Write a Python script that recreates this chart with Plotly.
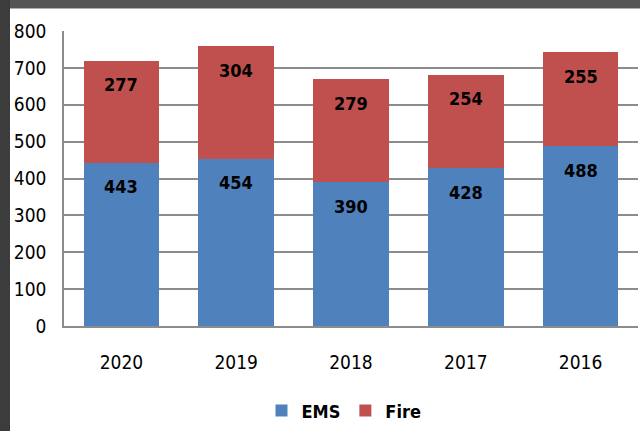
import plotly.graph_objects as go

# Call counts by year
years = ["2020", "2019", "2018", "2017", "2016"]
ems = [443, 454, 390, 428, 488]
fire = [277, 304, 279, 254, 255]
y_ticks = [0, 100, 200, 300, 400, 500, 600, 700, 800]

BLUE = "#4F81BD"
RED = "#C0504D"
FONT = "DejaVu Sans Condensed"

W, H = 640, 431
ML, MR, MT, MB = 64, 2, 31, 101
PW = W - ML - MR
PH = H - MT - MB


def px_x(p):
    return (p - ML) / PW


def px_y(p):
    return (H - MB - p) / PH


fig = go.Figure()
fig.add_trace(go.Bar(x=years, y=ems, name="EMS", marker=dict(color=BLUE, line=dict(width=0)),
                     width=0.66))
fig.add_trace(go.Bar(x=years, y=fire, name="Fire", marker=dict(color=RED, line=dict(width=0)),
                     width=0.66))

# Value labels near the top of each segment (x given as category index)
annotations = []
for i, (e, f) in enumerate(zip(ems, fire)):
    for top, val in ((e, e), (e + f, f)):
        annotations.append(dict(x=i, y=top, text=f"<b>{val}</b>", showarrow=False,
                                xref="x", yref="y", yanchor="middle", yshift=-24,
                                font=dict(family=FONT, size=18, color="black")))

shapes = [
    # white slide panel framed by a dark border on the top and left
    dict(type="rect", xref="paper", yref="paper", layer="below",
         x0=px_x(10), x1=px_x(660), y0=px_y(450), y1=px_y(8),
         fillcolor="white", line=dict(width=0)),
    dict(type="rect", xref="paper", yref="paper", layer="below",
         x0=px_x(10), x1=px_x(660), y0=px_y(8), y1=px_y(-10),
         fillcolor="#555555", line=dict(width=0)),
]

fig.update_layout(
    width=W, height=H,
    margin=dict(l=ML, r=MR, t=MT, b=MB),
    barmode="stack",
    paper_bgcolor="#3c3c3c",
    plot_bgcolor="white",
    font=dict(family=FONT, size=19, color="black"),
    showlegend=True,
    legend=dict(orientation="h", x=px_x(344), y=px_y(416), xanchor="center", yanchor="middle",
                traceorder="normal",
                font=dict(family=FONT, size=18, color="black", weight="bold"),
                bgcolor="rgba(0,0,0,0)", itemwidth=30, tracegroupgap=0),
    annotations=annotations,
    shapes=shapes,
    xaxis=dict(type="category", categoryorder="array", categoryarray=years,
               range=[-0.5, len(years) - 0.5],
               showgrid=False, showline=True, linecolor="#8c8c8c", linewidth=1.5,
               ticks="", ticklabelstandoff=18, tickfont=dict(family=FONT, size=19)),
    yaxis=dict(range=[0, 800], tickvals=y_ticks, showgrid=True, gridcolor="#8c8c8c", gridwidth=1.5,
               showline=True, linecolor="#8c8c8c", linewidth=1.5, ticks="",
               ticklabelstandoff=12, zeroline=False, tickfont=dict(family=FONT, size=19)),
)

fig.write_html("out.html")
